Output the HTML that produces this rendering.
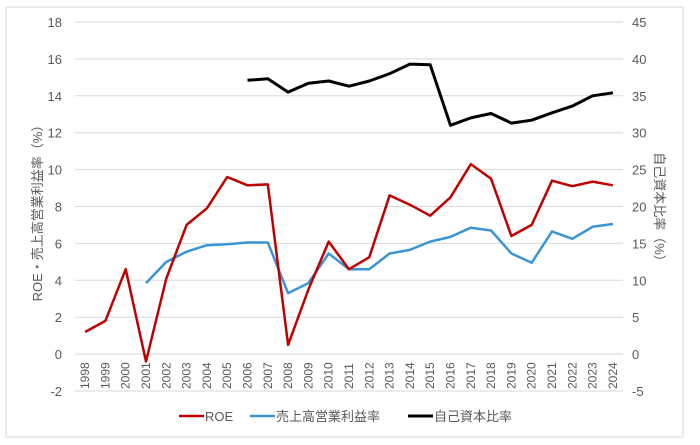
<!DOCTYPE html>
<html><head><meta charset="utf-8"><style>
body{margin:0;background:#fff;}
svg{display:block;font-family:"Liberation Sans","Noto Sans CJK JP",sans-serif;}
</style></head><body>
<svg id="c" width="700" height="445">
<rect x="6" y="7" width="677" height="430" fill="#fff" stroke="#d9d9d9"/>
<g id="grid"></g><g id="series"></g><g id="labels"></g>
<text transform="translate(42,210) rotate(-90)" font-size="13" fill="#595959" text-anchor="middle">ROE・売上高営業利益率（%）</text>
<text transform="translate(655,210) rotate(90)" font-size="13" fill="#595959" text-anchor="middle">自己資本比率（%）</text>
<g font-size="13" fill="#595959">
<line x1="179" y1="416" x2="204" y2="416" stroke="#c00000" stroke-width="2.5"/><text x="205" y="421">ROE</text>
<line x1="250" y1="416" x2="275" y2="416" stroke="#3a95d5" stroke-width="2.5"/><text x="276" y="421">売上高営業利益率</text>
<line x1="408" y1="416" x2="433" y2="416" stroke="#000" stroke-width="3"/><text x="434" y="421">自己資本比率</text>
</g>
</svg>
<script>
const years=[1998,1999,2000,2001,2002,2003,2004,2005,2006,2007,2008,2009,2010,2011,2012,2013,2014,2015,2016,2017,2018,2019,2020,2021,2022,2023,2024];
const roe=[1.2,1.8,4.6,-0.4,4.1,7.0,7.9,9.6,9.15,9.2,0.5,3.5,6.1,4.6,5.25,8.6,8.1,7.5,8.5,10.3,9.5,6.4,7.0,9.4,9.1,9.35,9.15];
const margin=[null,null,null,3.85,5.0,5.55,5.9,5.95,6.05,6.05,3.3,3.85,5.45,4.6,4.6,5.45,5.65,6.1,6.35,6.85,6.7,5.45,4.95,6.65,6.25,6.9,7.05];
const equity=[null,null,null,null,null,null,null,null,37.1,37.3,35.5,36.7,37.0,36.3,37.0,38.0,39.3,39.2,31.0,32.0,32.6,31.3,31.7,32.7,33.6,35.0,35.4];
const leftTicks=[-2,0,2,4,6,8,10,12,14,16,18];
const rightTicks=[-5,0,5,10,15,20,25,30,35,40,45];
const NS='http://www.w3.org/2000/svg';
const X0=75,X1=623,YT=22,YB=391;
const x=i=>X0+(X1-X0)*(i+0.5)/years.length;
const yL=v=>YB-(v+2)/20*(YB-YT);
const yR=v=>YB-(v+5)/50*(YB-YT);
function mk(t,a,p){const e=document.createElementNS(NS,t);for(const k in a)e.setAttribute(k,a[k]);p.appendChild(e);return e;}
const grid=document.getElementById('grid'),lab=document.getElementById('labels'),ser=document.getElementById('series');
leftTicks.forEach(v=>{
 const l=mk('line',{x1:X0,x2:X1,y1:yL(v),y2:yL(v),stroke:'#d9d9d9','stroke-width':1},grid);
 
 
 const t=mk('text',{x:62,y:yL(v)+5,'text-anchor':'end','font-size':13,fill:'#595959'},lab);t.textContent=v;
 
 
});
rightTicks.forEach(v=>{
 const t=mk('text',{x:632,y:yR(v)+5,'font-size':13,fill:'#595959'},lab);t.textContent=v;
 
 
});
years.forEach((yr,i)=>{
 const t=mk('text',{transform:`translate(${x(i)+4},389) rotate(-90)`,'font-size':12,fill:'#595959'},lab);t.textContent=yr;
 
 
});
function line(data,yf,color,w,name){
 let d='';data.forEach((v,i)=>{if(v==null)return;d+=(d?'L':'M')+x(i).toFixed(1)+','+yf(v).toFixed(1);});
 const p=mk('path',{d,fill:'none',stroke:color,'stroke-width':w,'stroke-linejoin':'round'},ser);
 
 
}
line(margin,yL,'#3a95d5',2.5,'margin-line');
line(roe,yL,'#c00000',2.5,'roe-line');
line(equity,yR,'#000',3,'equity-line');
</script>
</body></html>
